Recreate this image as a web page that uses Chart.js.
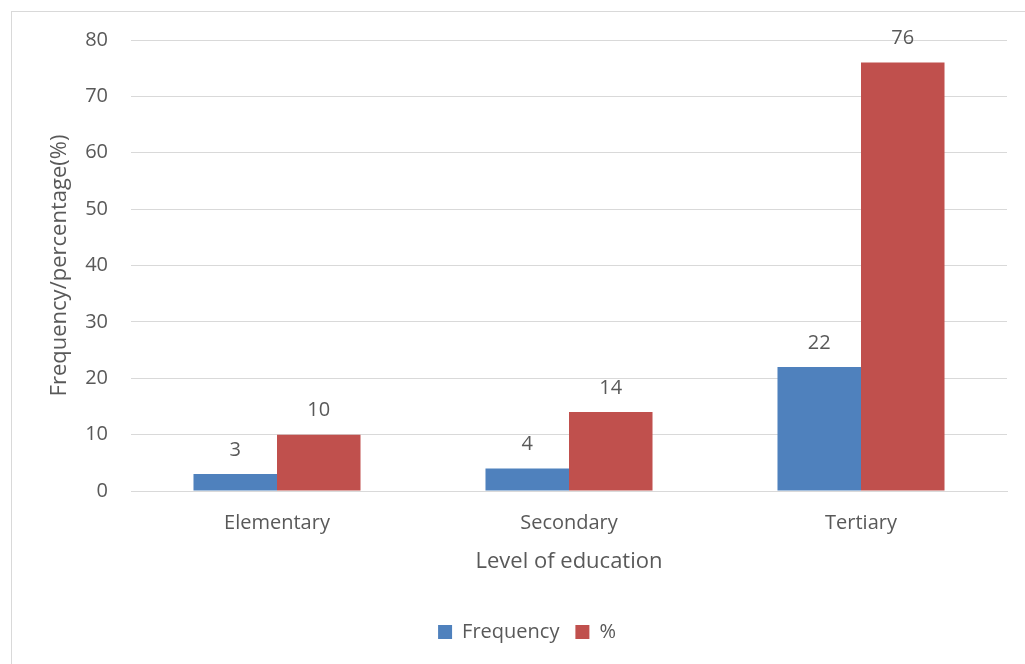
<!DOCTYPE html>
<html>
<head>
<meta charset="utf-8">
<script src="https://cdn.jsdelivr.net/npm/chart.js@4/dist/chart.umd.min.js"></script>
<style>
  html, body { margin: 0; padding: 0; background: #fff; overflow: hidden; }
  #frame { position: absolute; left: 11px; top: 11px; width: 1030px; height: 670px;
           border: 1px solid #d9d9d9; box-sizing: border-box; }
  #wrap { position: absolute; left: 0; top: 0; width: 1025px; height: 664px; }
</style>
</head>
<body>
<div id="frame"></div>
<div id="wrap"><canvas id="chart"></canvas></div>
<script>
const categories = ['Elementary', 'Secondary', 'Tertiary'];
const frequency = [3, 4, 22];
const percent = [10, 14, 76];
const seriesNames = ['Frequency', '%'];
const yTicks = [0, 10, 20, 30, 40, 50, 60, 70, 80];

const FONT = '"Open Sans", sans-serif';
const TEXT = '#595959';

// Value labels above each bar
const barLabels = {
  id: 'barLabels',
  afterDatasetsDraw(chart) {
    const ctx = chart.ctx;
    ctx.save();
    ctx.font = '20px ' + FONT;
    ctx.fillStyle = TEXT;
    ctx.textAlign = 'center';
    ctx.textBaseline = 'middle';
    chart.data.datasets.forEach((ds, i) => {
      chart.getDatasetMeta(i).data.forEach((bar, j) => {
        ctx.fillText(String(ds.data[j]), bar.x, bar.y - 24);
      });
    });
    ctx.restore();
  }
};

new Chart(document.getElementById('chart'), {
  type: 'bar',
  data: {
    labels: categories,
    datasets: [
      { label: seriesNames[0], data: frequency, backgroundColor: '#4F81BD' },
      { label: seriesNames[1], data: percent, backgroundColor: '#C0504D' }
    ]
  },
  options: {
    responsive: true,
    maintainAspectRatio: false,
    animation: false,
    events: [],
    categoryPercentage: 0.572,
    barPercentage: 1.0,
    layout: { padding: { top: 40, right: 18, bottom: 12, left: 47 } },
    plugins: {
      tooltip: { enabled: false },
      legend: {
        position: 'bottom',
        labels: {
          color: TEXT,
          font: { family: FONT, size: 20 },
          boxWidth: 14,
          boxHeight: 14,
          padding: 16
        }
      }
    },
    scales: {
      x: {
        grid: { display: false, drawTicks: false },
        border: { display: true, color: '#d9d9d9', width: 1 },
        ticks: { color: TEXT, font: { family: FONT, size: 20 }, padding: 20 },
        title: {
          display: true, text: 'Level of education', color: TEXT,
          font: { family: FONT, size: 22 }, padding: { top: 4, bottom: 31 }
        },
        afterFit(scale) { scale.height = 115; }
      },
      y: {
        min: 0, max: 80,
        afterBuildTicks(scale) { scale.ticks = yTicks.map(v => ({ value: v })); },
        grid: { color: '#d9d9d9', drawTicks: false },
        border: { display: false },
        ticks: { color: TEXT, font: { family: FONT, size: 20 }, padding: 23 },
        title: {
          display: true, text: 'Frequency/percentage(%)', color: TEXT,
          font: { family: FONT, size: 22 }, padding: { top: 0, bottom: 0 }
        },
        afterFit(scale) { scale.width = 84; }
      }
    }
  },
  plugins: [barLabels]
});
</script>
</body>
</html>
